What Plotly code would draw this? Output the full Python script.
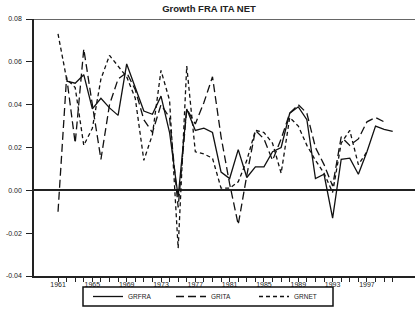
import plotly.graph_objects as go

years = list(range(1961, 2001))

grfra = [None, 0.051, 0.050, 0.054, 0.038, 0.043, 0.0385, 0.035, 0.059, 0.048,
         0.037, 0.0355, 0.044, 0.027, -0.003, 0.038, 0.028, 0.029, 0.027, 0.0085,
         0.0055, 0.019, 0.006, 0.011, 0.011, 0.018, 0.020, 0.036, 0.039, 0.033,
         0.0055, 0.0075, -0.013, 0.0145, 0.015, 0.0075, 0.018, 0.030, 0.0285, 0.0275]

grita = [-0.010, 0.053, 0.022, 0.066, 0.040, 0.0145, 0.040, 0.052, 0.055, 0.047,
         0.033, 0.027, 0.040, 0.034, -0.008, 0.038, 0.031, 0.041, 0.053, 0.025,
         0.003, -0.016, 0.007, 0.028, 0.024, 0.014, 0.024, 0.036, 0.040, 0.036,
         0.020, 0.012, 0.002, 0.025, 0.021, 0.024, 0.032, 0.034, 0.032, None]

grnet = [0.073, 0.052, 0.048, 0.021, 0.029, 0.052, 0.063, 0.058, 0.053, 0.043,
         0.014, 0.026, 0.056, 0.042, -0.027, 0.058, 0.018, 0.017, 0.015, 0.001,
         0.001, 0.004, 0.014, 0.028, 0.027, 0.022, 0.008, 0.034, 0.030, 0.021,
         0.014, 0.008, -0.001, 0.022, 0.028, 0.012, 0.018, None, None, None]

y_tick_vals = [0.08, 0.06, 0.04, 0.02, 0.00, -0.02, -0.04]
y_tick_text = ["0.08", "0.06", "0.04", "0.02", "0.00", "-0.02", "-0.04"]
x_tick_vals = [1961, 1965, 1969, 1973, 1977, 1981, 1985, 1989, 1993, 1997]
x_tick_text = [str(v) for v in x_tick_vals]

W, H = 415, 310
L, R, T, B = 34, 0, 19, 34
PW, PH = W - L - R, H - T - B

fig = go.Figure()
fig.add_trace(go.Scatter(x=years, y=grfra, name="GRFRA", mode="lines",
                         line=dict(color="#111", width=1.3)))
fig.add_trace(go.Scatter(x=years, y=grita, name="GRITA", mode="lines",
                         line=dict(color="#111", width=1.3, dash="8px,4px")))
fig.add_trace(go.Scatter(x=years, y=grnet, name="GRNET", mode="lines",
                         line=dict(color="#111", width=1.3, dash="4px,3px")))

tick_font = dict(family="Liberation Sans, Arial", size=7, color="#222")

fig.update_layout(
    width=W, height=H,
    margin=dict(l=L, r=R, t=T, b=B, autoexpand=False),
    paper_bgcolor="white", plot_bgcolor="white",
    title=dict(text="<b>Growth FRA ITA NET</b>", x=209/W, xref="container",
               xanchor="center", y=1 - 9/H, yref="container", yanchor="middle",
               font=dict(family="Liberation Sans, Arial", size=9.5, color="#222")),
    showlegend=True,
    legend=dict(orientation="h", xref="container", x=88/W, xanchor="left",
                yref="container", y=1 - 296.5/H, yanchor="middle",
                borderwidth=0, bgcolor="rgba(0,0,0,0)",
                font=dict(family="Liberation Sans, Arial", size=6.5, color="#222"),
                entrywidth=38, entrywidthmode="pixels", itemwidth=30,
                tracegroupgap=0),
    xaxis=dict(range=[1958.2, 2002.6], showgrid=False, zeroline=False,
               tickmode="array", tickvals=x_tick_vals, ticktext=x_tick_text,
               ticks="outside", ticklen=4, tickwidth=1, tickcolor="#222",
               showline=True, linecolor="#222", linewidth=1.5,
               tickfont=tick_font, ticklabelstandoff=-3,
               minor=dict(tickmode="array", tickvals=years, ticks="outside",
                          ticklen=4, tickwidth=1, tickcolor="#222")),
    yaxis=dict(range=[-0.04, 0.08], showgrid=False,
               tickmode="array", tickvals=y_tick_vals, ticktext=y_tick_text,
               ticks="outside", ticklen=6, tickwidth=1, tickcolor="#222",
               showline=True, linecolor="#222", linewidth=1.5,
               zeroline=True, zerolinecolor="#222", zerolinewidth=1.5,
               tickfont=tick_font, ticklabelstandoff=3),
)

# top frame line
fig.add_shape(type="line", xref="paper", yref="y", x0=0, x1=1, y0=0.08, y1=0.08,
              line=dict(color="#333", width=1.5))
# legend frame
fig.add_shape(type="rect", xref="paper", yref="paper",
              x0=(83 - L) / PW, x1=(333 - L) / PW,
              y0=(H - B - 287) / PH, y1=(H - B - 306) / PH,
              line=dict(color="#111", width=1.5), fillcolor="rgba(0,0,0,0)")

fig.write_html("out.html", config={"displayModeBar": False},
               post_script="document.body.style.margin='0';")
